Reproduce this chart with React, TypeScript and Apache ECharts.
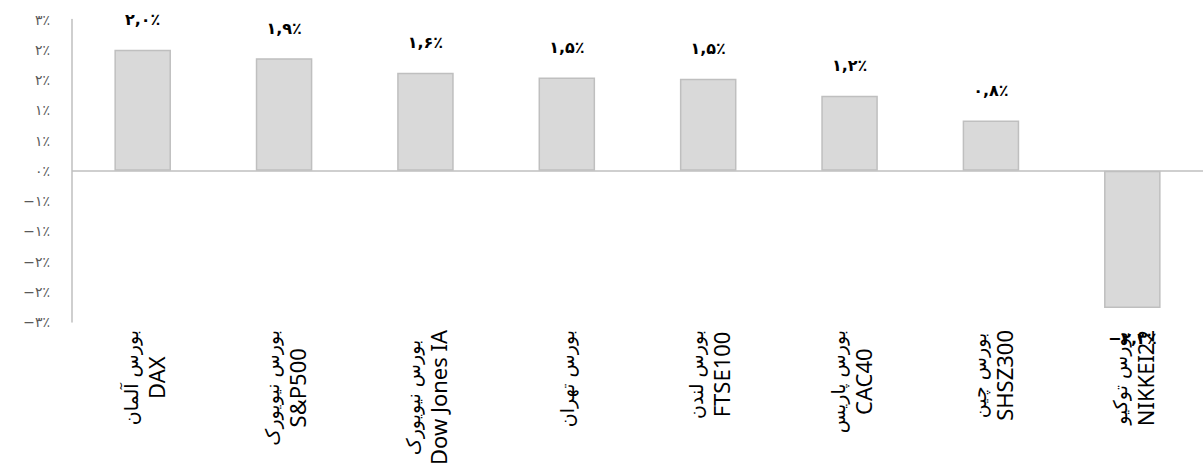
import React, { useEffect, useRef } from "react";
import * as echarts from "echarts";

const categoriesFa = [
  "بورس آلمان",
  "بورس نیویورک",
  "بورس نیویورک",
  "بورس تهران",
  "بورس لندن",
  "بورس پاریس",
  "بورس چین",
  "بورس توکیو",
];
const categoriesEn = ["DAX", "S&P500", "Dow Jones IA", "", "FTSE100", "CAC40", "SHSZ300", "NIKKEI22"];
const values = [2.0, 1.86, 1.62, 1.54, 1.52, 1.24, 0.83, -2.27];

const yMin = -2.5;
const yMax = 2.5;
const yInterval = 0.5;

const faDigits = "۰۱۲۳۴۵۶۷۸۹";
const toFa = (s: string) => s.replace(/[0-9]/g, (d) => faDigits[Number(d)]).replace(".", ",");

const yLabel = (v: number) => {
  const a = Math.round(Math.round(Math.abs(v) * 1000) / 1000);
  if (a === 0) return toFa("0") + "٪";
  return (v < 0 ? "−" : "") + toFa(String(a)) + "٪";
};

const barLabel = (v: number) => (v < 0 ? "−" : "") + toFa(Math.abs(v).toFixed(1)) + "٪";

export default function App() {
  const ref = useRef<HTMLDivElement>(null);
  useEffect(() => {
    if (!ref.current) return;
    const chart = echarts.init(ref.current, undefined, { renderer: "svg" });
    const cats = categoriesFa.map((f, i) => (categoriesEn[i] ? f + "|" + categoriesEn[i] : f));
    chart.setOption({
      animation: false,
      grid: { left: 72, right: -5, top: 19.5, bottom: 153, containLabel: false },
      xAxis: {
        type: "category",
        data: cats,
        axisLine: { show: false, onZero: false },
        axisTick: { show: false },
        axisLabel: {
          interval: 0,
          rotate: 90,
          margin: 8,
          formatter: (v: string) => {
            const parts = v.split("|");
            return parts.length > 1 ? `{fa|${parts[0]}}\n{en|${parts[1]}}` : `{fa|${parts[0]}}`;
          },
          rich: {
            fa: { fontFamily: "DejaVu Sans", fontSize: 19, lineHeight: 26, color: "#000", align: "center" },
            en: { fontFamily: "Noto Sans", fontSize: 22, lineHeight: 24, color: "#000", align: "center" },
          },
        },
      },
      yAxis: {
        type: "value",
        min: yMin,
        max: yMax,
        interval: yInterval,
        axisLine: { show: true, lineStyle: { color: "#bfbfbf", width: 1.5 } },
        axisTick: { show: false },
        splitLine: { show: false },
        axisLabel: {
          margin: 22,
          fontFamily: "DejaVu Sans",
          fontSize: 14,
          color: "#595959",
          formatter: yLabel,
        },
      },
      series: [
        {
          type: "bar",
          barWidth: "40%",
          data: values.map((v) => ({
            value: v,
            label: { position: v < 0 ? "bottom" : "top" },
          })),
          itemStyle: { color: "#d9d9d9", borderColor: "#bfbfbf", borderWidth: 1.5 },
          label: {
            show: true,
            distance: 22,
            fontFamily: "DejaVu Sans",
            fontWeight: "bold",
            fontSize: 16,
            color: "#000",
            formatter: (p: any) => barLabel(p.value),
          },
          markLine: {
            silent: true,
            symbol: ["none", "none"],
            label: { show: false },
            lineStyle: { color: "#bfbfbf", width: 1.5, type: "solid" },
            data: [{ yAxis: 0 }],
          },
        },
      ],
    });
    return () => chart.dispose();
  }, []);
  return <div ref={ref} style={{ position: "absolute", left: 0, top: 0, width: 1203, height: 475 }} />;
}
